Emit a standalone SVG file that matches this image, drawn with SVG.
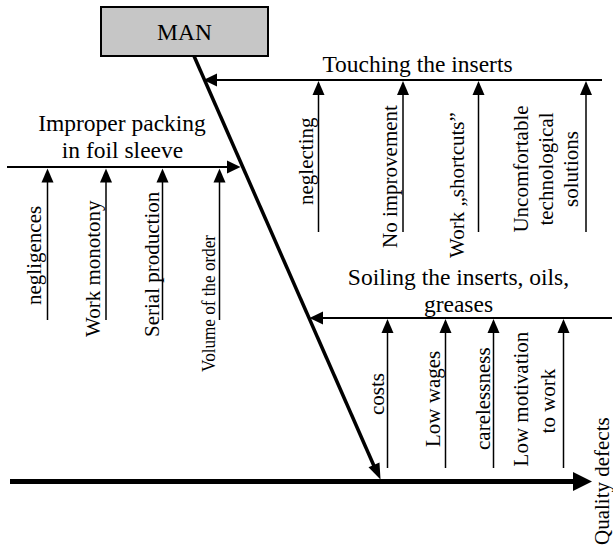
<svg xmlns="http://www.w3.org/2000/svg" width="613" height="549" viewBox="0 0 613 549">
  <style>
    text { font-family: "Liberation Serif", "Times New Roman", serif; fill: #000; }
    .head { font-size: 23.5px; text-anchor: middle; }
    .lbl { font-size: 21px; }
    .small { font-size: 18.5px; }
    .mid { text-anchor: middle; }
    .branch { stroke: #000; stroke-width: 2; fill: none; }
    .cause { stroke: #000; stroke-width: 1.5; fill: none; }
    .head-fill { fill: #000; stroke: none; }
  </style>
  <defs>
    <!-- small upward arrowhead used by every cause arrow; tip at origin -->
    <polygon id="tipUp" points="0,0 -6,14 6,14" class="head-fill"/>
  </defs>

  <rect width="613" height="549" fill="#fff"/>

  <!-- category box -->
  <g id="man">
    <rect x="101" y="7" width="167" height="49" fill="#c6c6c6" stroke="#000" stroke-width="2"/>
    <text class="head" x="184.5" y="40">MAN</text>
  </g>

  <!-- main bone, diagonal bone and branch lines -->
  <g id="connectors">
    <!-- spine -->
    <line x1="10" y1="481.5" x2="575" y2="481.5" stroke="#000" stroke-width="5"/>
    <polygon points="573,472 592,481.5 573,491" class="head-fill"/>
    <!-- diagonal from MAN box down to spine -->
    <line x1="194" y1="56" x2="374" y2="466" stroke="#000" stroke-width="3.5"/>
    <polygon points="380.5,479.5 368.5,467.3 379.5,462.5" class="head-fill"/>

    <!-- branch: Touching the inserts -->
    <line x1="215" y1="80" x2="602" y2="80" class="branch"/>
    <polygon points="203.5,80 217,73.5 217,86.5" class="head-fill"/>
    <!-- branch: Improper packing -->
    <line x1="7" y1="167" x2="228" y2="167" class="branch"/>
    <polygon points="240.5,167 227,160.5 227,173.5" class="head-fill"/>
    <!-- branch: Soiling the inserts -->
    <line x1="322" y1="318" x2="612" y2="318" class="branch"/>
    <polygon points="309.5,318 323,311.5 323,324.5" class="head-fill"/>

    <!-- cause arrows, Touching -->
    <line x1="318.5" y1="94" x2="318.5" y2="232" class="cause"/><use href="#tipUp" x="318.5" y="81"/>
    <line x1="403" y1="94" x2="403" y2="232" class="cause"/><use href="#tipUp" x="403" y="81"/>
    <line x1="478.5" y1="94" x2="478.5" y2="232" class="cause"/><use href="#tipUp" x="478.5" y="81"/>
    <line x1="586" y1="94" x2="586" y2="232" class="cause"/><use href="#tipUp" x="586" y="81"/>

    <!-- cause arrows, Improper packing -->
    <line x1="47.5" y1="182" x2="47.5" y2="320" class="cause"/><use href="#tipUp" x="47.5" y="168.5"/>
    <line x1="106" y1="182" x2="106" y2="320" class="cause"/><use href="#tipUp" x="106" y="168.5"/>
    <line x1="162.5" y1="182" x2="162.5" y2="320" class="cause"/><use href="#tipUp" x="162.5" y="168.5"/>
    <line x1="219.5" y1="182" x2="219.5" y2="320" class="cause"/><use href="#tipUp" x="219.5" y="168.5"/>

    <!-- cause arrows, Soiling -->
    <line x1="387.5" y1="332" x2="387.5" y2="468" class="cause"/><use href="#tipUp" x="387.5" y="319"/>
    <line x1="445.5" y1="332" x2="445.5" y2="468" class="cause"/><use href="#tipUp" x="445.5" y="319"/>
    <line x1="493.5" y1="332" x2="493.5" y2="468" class="cause"/><use href="#tipUp" x="493.5" y="319"/>
    <line x1="563.5" y1="332" x2="563.5" y2="468" class="cause"/><use href="#tipUp" x="563.5" y="319"/>
  </g>

  <!-- branch headings -->
  <g id="touching">
    <text class="head" x="417.5" y="71.5">Touching the inserts</text>
  </g>
  <g id="improper">
    <text class="head" x="122" y="130.5">Improper packing</text>
    <text class="head" x="122.5" y="158">in foil sleeve</text>
  </g>
  <g id="soiling">
    <text class="head" x="458.5" y="285">Soiling the inserts, oils,</text>
    <text class="head" x="458.5" y="311.5">greases</text>
  </g>

  <!-- cause labels, written bottom to top -->
  <g id="cause-neglecting"><text class="lbl" transform="translate(313,205) rotate(-90)">neglecting</text></g>
  <g id="cause-no-improvement"><text class="lbl" transform="translate(397,248) rotate(-90)">No improvement</text></g>
  <g id="cause-shortcuts"><text class="lbl" transform="translate(464,258) rotate(-90)">Work „shortcuts”</text></g>
  <g id="cause-uncomfortable">
    <text class="lbl mid" transform="translate(528,169) rotate(-90)">Uncomfortable</text>
    <text class="lbl mid" transform="translate(553,169) rotate(-90)">technological</text>
    <text class="lbl mid" transform="translate(578,169) rotate(-90)">solutions</text>
  </g>

  <g id="cause-negligences"><text class="lbl" transform="translate(41,305) rotate(-90)">negligences</text></g>
  <g id="cause-monotony"><text class="lbl" transform="translate(100,337) rotate(-90)">Work monotony</text></g>
  <g id="cause-serial"><text class="lbl" transform="translate(159,337) rotate(-90)">Serial production</text></g>
  <g id="cause-volume"><text class="lbl small" transform="translate(215,372) rotate(-90)" textLength="137" lengthAdjust="spacingAndGlyphs">Volume of the order</text></g>

  <g id="cause-costs"><text class="lbl" transform="translate(384,415) rotate(-90)">costs</text></g>
  <g id="cause-wages"><text class="lbl" transform="translate(440,447) rotate(-90)">Low wages</text></g>
  <g id="cause-carelessness"><text class="lbl" transform="translate(490,450) rotate(-90)">carelessness</text></g>
  <g id="cause-motivation">
    <text class="lbl mid" transform="translate(528,399) rotate(-90)">Low motivation</text>
    <text class="lbl mid" transform="translate(555,401) rotate(-90)">to work</text>
  </g>

  <!-- effect -->
  <g id="effect"><text class="lbl" transform="translate(609,545) rotate(-90)">Quality defects</text></g>
</svg>
